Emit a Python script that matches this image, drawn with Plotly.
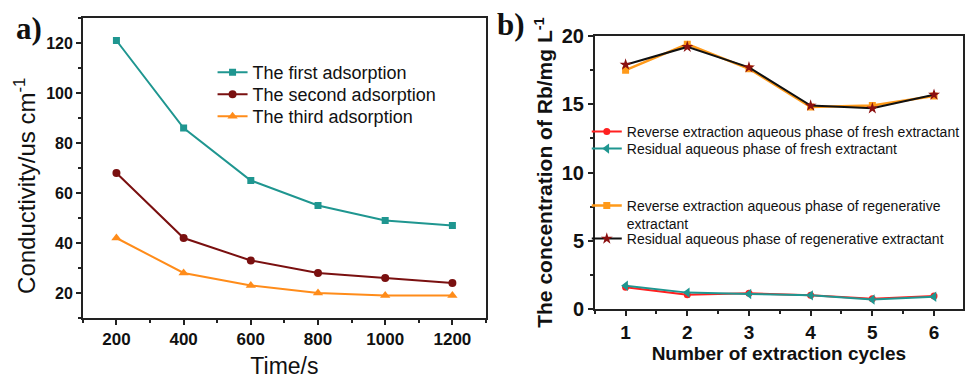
import plotly.graph_objects as go

# ---- data ----
time_s = [200, 400, 600, 800, 1000, 1200]
first_ads = [121, 86, 65, 55, 49, 47]
second_ads = [68, 42, 33, 28, 26, 24]
third_ads = [42, 28, 23, 20, 19, 19]

cycles = [1, 2, 3, 4, 5, 6]
rev_fresh = [1.6, 1.05, 1.15, 1.0, 0.75, 0.95]
res_fresh = [1.7, 1.2, 1.1, 1.0, 0.7, 0.9]
rev_regen = [17.5, 19.4, 17.6, 14.8, 14.9, 15.6]
res_regen = [17.9, 19.2, 17.7, 14.9, 14.7, 15.7]

W, H = 965, 379
FONT = "Arial, Liberation Sans, sans-serif"

fig = go.Figure()

# left panel
fig.add_trace(go.Scatter(x=time_s, y=first_ads, name="The first adsorption", mode="lines+markers",
                         line=dict(color="#1f9690", width=2), marker=dict(symbol="square", size=7, color="#1f9690"),
                         xaxis="x", yaxis="y", legend="legend", showlegend=True))
fig.add_trace(go.Scatter(x=time_s, y=second_ads, name="The second adsorption", mode="lines+markers",
                         line=dict(color="#7a1010", width=2), marker=dict(symbol="circle", size=8, color="#7a1010"),
                         xaxis="x", yaxis="y", legend="legend2", showlegend=True))
fig.add_trace(go.Scatter(x=time_s, y=third_ads, name="The third adsorption", mode="lines+markers",
                         line=dict(color="#ff8c1a", width=2), marker=dict(symbol="triangle-up", size=9, color="#ff8c1a"),
                         xaxis="x", yaxis="y", legend="legend3", showlegend=True))

# right panel
fig.add_trace(go.Scatter(x=cycles, y=rev_fresh, name="Reverse extraction aqueous phase of fresh extractant",
                         mode="lines+markers", line=dict(color="#ff2020", width=2),
                         marker=dict(symbol="circle", size=7, color="#ff2020"),
                         xaxis="x2", yaxis="y2", legend="legend4", showlegend=True))
fig.add_trace(go.Scatter(x=cycles, y=res_fresh, name="Residual aqueous phase of fresh extractant",
                         mode="lines+markers", line=dict(color="#1f9690", width=2),
                         marker=dict(symbol="triangle-left", size=9, color="#1f9690"),
                         xaxis="x2", yaxis="y2", legend="legend5", showlegend=True))
fig.add_trace(go.Scatter(x=cycles, y=rev_regen, name="Reverse extraction aqueous phase of regenerative<br>extractant",
                         mode="lines+markers", line=dict(color="#ff9a1a", width=2.5),
                         marker=dict(symbol="square", size=7, color="#ff9a1a"),
                         xaxis="x2", yaxis="y2", legend="legend6", showlegend=True))
fig.add_trace(go.Scatter(x=cycles, y=res_regen, name="Residual aqueous phase of regenerative extractant",
                         mode="lines+markers", line=dict(color="#111111", width=2),
                         marker=dict(symbol="star", size=9, color="#8b1010"),
                         xaxis="x2", yaxis="y2", legend="legend7", showlegend=True))

axis_common = dict(showline=True, linecolor="#222", linewidth=1.5, mirror=True, ticks="outside",
                   ticklen=5, tickwidth=1.5, tickcolor="#222", showgrid=False, zeroline=False,
                   automargin=False)

def left_legend(top):
    return dict(x=213 / W, y=1 - top / H, xanchor="left", yanchor="top", bgcolor="rgba(0,0,0,0)",
                font=dict(size=18, family=FONT), tracegroupgap=0, itemwidth=30)

def right_legend(top, valign="middle"):
    return dict(x=588 / W, y=1 - top / H, xanchor="left", yanchor="top", bgcolor="rgba(0,0,0,0)",
                font=dict(size=14, family=FONT), tracegroupgap=0, itemwidth=30, valign=valign)

fig.update_layout(
    width=W, height=H, margin=dict(l=0, r=0, t=0, b=0),
    paper_bgcolor="white", plot_bgcolor="white", showlegend=True,
    font=dict(family=FONT, color="#111"),
    xaxis=dict(domain=[83 / W, 487 / W], range=[100, 1300], tickvals=time_s,
               tickfont=dict(size=17, family=FONT, weight="bold"),
               minor=dict(ticks="outside", ticklen=3, dtick=100, tick0=100, tickcolor="#222"),
               title=dict(text="Time/s", font=dict(size=23, family=FONT), standoff=18),
               anchor="y", **axis_common),
    yaxis=dict(domain=[1 - 318 / H, 1 - 18 / H], range=[10, 130], tickvals=[20, 40, 60, 80, 100, 120],
               tickfont=dict(size=16, family=FONT, weight="bold"),
               minor=dict(ticks="outside", ticklen=3, dtick=10, tick0=10, tickcolor="#222"),
               anchor="x", **axis_common),
    xaxis2=dict(domain=[596 / W, 1.0], range=[0.5, 6.47], tickvals=cycles,
                tickfont=dict(size=19, family=FONT, weight="bold"),
                minor=dict(ticks="outside", ticklen=3, dtick=0.5, tick0=0.5, tickcolor="#222"),
                title=dict(text="Number of extraction cycles", font=dict(size=19, family=FONT, weight="bold"), standoff=4),
                anchor="y2", **axis_common),
    yaxis2=dict(domain=[1 - 309 / H, 1 - 36 / H], range=[0, 20], tickvals=[0, 5, 10, 15, 20],
                tickfont=dict(size=20, family=FONT, weight="bold"),
                minor=dict(ticks="outside", ticklen=3, dtick=2.5, tick0=0, tickcolor="#222"),
                title=dict(text="The concentration of Rb/mg L<sup>-1</sup>", font=dict(size=21, family=FONT, weight="bold"), standoff=3),
                anchor="x2", **axis_common),
    legend=left_legend(54),
    legend2=left_legend(76),
    legend3=left_legend(98),
    legend4=right_legend(116),
    legend5=right_legend(133),
    legend6=right_legend(190, valign="top"),
    legend7=right_legend(223),
    annotations=[
        dict(text="Conductivity/us cm<sup>-1</sup>", x=25 / W, y=1 - 186 / H, xref="paper", yref="paper",
             xanchor="center", yanchor="middle", textangle=-90, showarrow=False,
             font=dict(size=24, family=FONT, color="#111")),
        dict(text="<b>a)</b>", x=14 / W, y=1 - 29 / H, xref="paper", yref="paper", xanchor="left", yanchor="middle",
             showarrow=False, font=dict(size=31, family="Times New Roman, Liberation Serif, serif", color="#111")),
        dict(text="<b>b)</b>", x=496 / W, y=1 - 24 / H, xref="paper", yref="paper", xanchor="left", yanchor="middle",
             showarrow=False, font=dict(size=31, family="Times New Roman, Liberation Serif, serif", color="#111")),
    ],
)

fig.write_html("out.html")
